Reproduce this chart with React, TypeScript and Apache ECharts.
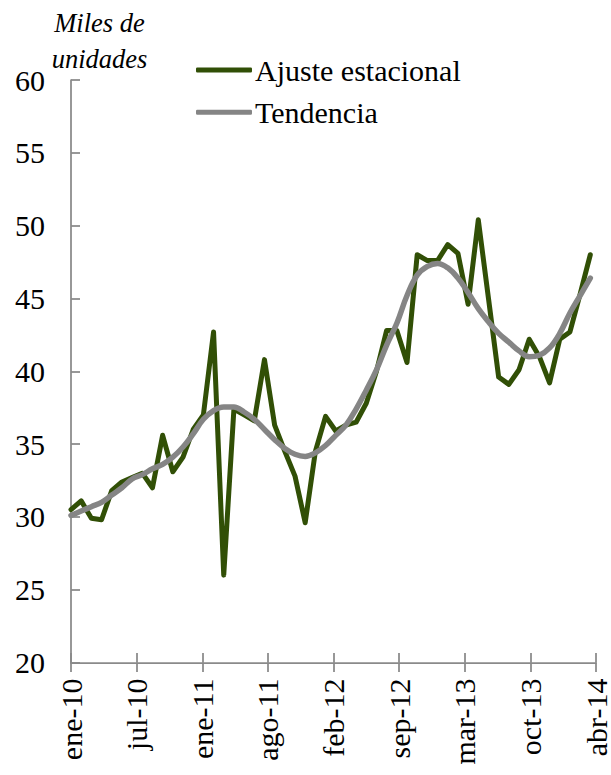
import React, { useEffect, useRef } from "react";
import * as echarts from "echarts";

// Monthly series, ene-10 .. abr-14 (52 months), thousands of units
const ajusteEstacional = [
  30.5, 31.1, 29.9, 29.8, 31.8, 32.4, 32.7, 33.0, 32.0, 35.6, 33.1, 34.1,
  36.0, 37.0, 42.7, 26.0, 37.4, 37.0, 36.6, 40.8, 36.3, 34.5, 32.8, 29.6,
  34.5, 36.9, 35.9, 36.3, 36.5, 37.8, 40.0, 42.8, 42.8, 40.6, 48.0, 47.6,
  47.6, 48.7, 48.1, 44.6, 50.4, 45.0, 39.6, 39.1, 40.1, 42.2, 41.0, 39.2,
  42.2, 42.7, 45.3, 48.0,
];
const tendencia = [
  30.1, 30.4, 30.7, 31.0, 31.5, 32.0, 32.6, 32.9, 33.3, 33.6, 34.1, 34.8,
  35.7, 36.7, 37.3, 37.55, 37.55, 37.2, 36.7, 36.0, 35.3, 34.7, 34.3, 34.15,
  34.4, 34.9, 35.6, 36.3, 37.4, 38.7, 40.1, 41.8, 43.3, 45.2, 46.6, 47.2,
  47.4, 47.1, 46.4, 45.4, 44.3, 43.4, 42.6, 42.0, 41.4, 41.0, 41.1, 41.6,
  42.6, 44.0, 45.2, 46.4,
];
const xTickLabels = [
  "ene-10", "jul-10", "ene-11", "ago-11", "feb-12", "sep-12", "mar-13", "oct-13", "abr-14",
];
const seriesNames = ["Ajuste estacional", "Tendencia"];
const yAxisTitle = ["Miles de", "unidades"];

const X_MAX = 51.56;
const X_INTERVAL = X_MAX / 8;

const FONT = "Liberation Serif";
const AXIS_COLOR = "#8a8a8a";
const GREEN = "#314f06";
const GRAY = "#858585";

export default function App() {
  const ref = useRef<HTMLDivElement>(null);
  useEffect(() => {
    if (!ref.current) return;
    const chart = echarts.init(ref.current, undefined, { renderer: "svg" });
    const toPairs = (arr: number[]) => arr.map((v, i) => [i, v]);
    const labelFor = (v: number) => xTickLabels[Math.round(v / X_INTERVAL)] ?? "";
    const tickStyle = { color: AXIS_COLOR, width: 1.75 };
    chart.setOption({
      animation: false,
      textStyle: { fontFamily: FONT, fontSize: 30 },
      grid: { left: 71, right: 11, top: 80, bottom: 112.5, containLabel: false },
      legend: {
        orient: "vertical",
        left: 196,
        top: 53.5,
        padding: 0,
        icon: "roundRect",
        itemWidth: 56,
        itemHeight: 5,
        itemGap: 9.3,
        selectedMode: false,
        data: seriesNames,
        textStyle: { fontFamily: FONT, fontSize: 30, color: "#000", lineHeight: 33, padding: [0, 0, 0, -2] },
      },
      graphic: yAxisTitle.map((t, i) => ({
        type: "text",
        x: 99.5,
        y: 22.8 + i * 36.3,
        style: {
          text: t,
          fontFamily: FONT,
          fontStyle: "italic",
          fontSize: 26.5,
          fill: "#000",
          align: "center",
          verticalAlign: "middle",
        },
      })),
      xAxis: [
        {
          type: "value",
          min: 0,
          max: X_MAX,
          interval: X_INTERVAL,
          splitLine: { show: false },
          axisLine: { show: true, lineStyle: tickStyle },
          axisTick: { show: true, inside: false, length: 9.5, lineStyle: tickStyle },
          axisLabel: {
            rotate: 90,
            margin: 16,
            fontSize: 30,
            color: "#000",
            fontFamily: FONT,
            formatter: labelFor,
            showMinLabel: true,
            showMaxLabel: true,
          },
        },
        {
          type: "value",
          position: "bottom",
          min: 0,
          max: X_MAX,
          interval: X_INTERVAL,
          splitLine: { show: false },
          axisLine: { show: false },
          axisTick: { show: true, inside: true, length: 9.5, lineStyle: tickStyle },
          axisLabel: { show: false },
        },
      ],
      yAxis: {
        type: "value",
        min: 20,
        max: 60,
        interval: 5,
        splitLine: { show: false },
        axisLine: { show: true, lineStyle: tickStyle },
        axisTick: { show: true, inside: true, length: 9, lineStyle: tickStyle },
        axisLabel: { fontSize: 30, color: "#000", fontFamily: FONT, margin: 26 },
      },
      series: [
        {
          name: seriesNames[0],
          type: "line",
          data: toPairs(ajusteEstacional),
          showSymbol: false,
          symbol: "none",
          itemStyle: { color: GREEN },
          lineStyle: { color: GREEN, width: 5, join: "round", cap: "round" },
        },
        {
          name: seriesNames[1],
          type: "line",
          data: toPairs(tendencia),
          showSymbol: false,
          symbol: "none",
          smooth: 0.4,
          itemStyle: { color: GRAY },
          lineStyle: { color: GRAY, width: 5.5, cap: "round" },
        },
      ],
    });
    return () => chart.dispose();
  }, []);
  return <div ref={ref} style={{ width: 611, height: 775, position: "absolute", left: 0, top: 0 }} />;
}
